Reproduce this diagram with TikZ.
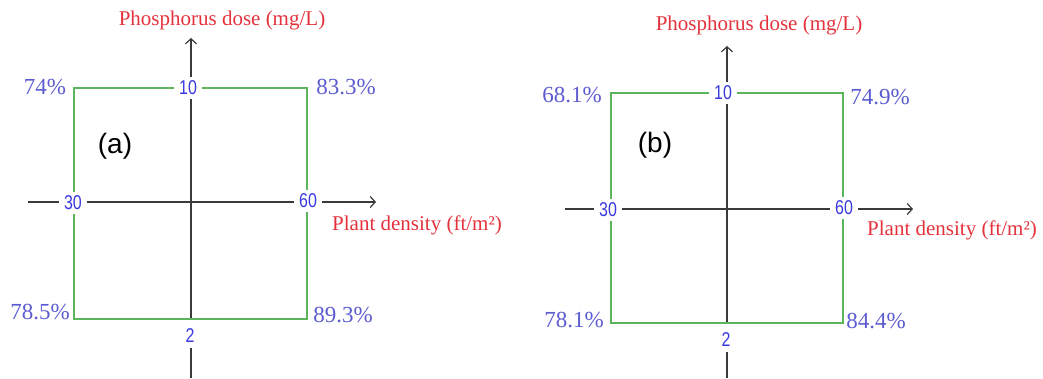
\documentclass[tikz,border=0pt]{standalone}
\usepackage{fontspec}
\usepackage{graphicx}
\setmainfont{Liberation Serif}
\newfontfamily\arialf{Liberation Sans}
\usetikzlibrary{arrows.meta}
\definecolor{labred}{HTML}{E4323C}
\definecolor{pctblue}{HTML}{5C5CD0}
\definecolor{numblue}{HTML}{3A3AE0}
\definecolor{boxgreen}{HTML}{5CB45C}
\definecolor{axisgray}{HTML}{3A3A3A}
\tikzset{
  axis/.style={draw=axisgray, line width=1.6pt},
  axarrow/.style={axis, -{Straight Barb[length=5pt,width=11pt,line width=1.2pt]}},
  boxline/.style={draw=boxgreen, line width=1.8pt},
  tick/.style={font=\arialf\fontsize{20}{20}\selectfont, text=numblue, fill=white, inner xsep=5pt, inner ysep=3.5pt},
  pct/.style={font=\fontsize{23}{23}\selectfont, text=pctblue, inner sep=0pt},
  axlabel/.style={font=\fontsize{21}{21}\selectfont, text=labred, inner sep=0pt},
  panel/.style={font=\arialf\fontsize{28}{28}\selectfont, text=black, inner sep=0pt}
}
\newcommand{\cond}[1]{\scalebox{0.8}[1]{#1}}
\begin{document}
\begin{tikzpicture}[x=1pt,y=1pt]
\useasboundingbox (0,0) rectangle (1043,378);
% ---------- panel (a) ----------
\coordinate (aTL) at (74,290);
\coordinate (aTR) at (307,290);
\coordinate (aBL) at (74,59);
\coordinate (aBR) at (307,59);
\coordinate (aBC) at (191,59);
\coordinate (aVtop) at (191,340);
\coordinate (aVbot) at (191,0);
\coordinate (aVlow) at (191,30);
\coordinate (aHl) at (28,176);
\coordinate (aHr) at (376,176);
\draw[axarrow] (aBC) -- (aVtop);
\draw[axis] (aVbot) -- (aVlow);
\draw[axarrow] (aHl) -- (aHr);
\draw[boxline] (aTL) -- (aTR) -- (aBR) -- (aBL) -- cycle;
\node[tick] (a10) at (188,290) {\cond{10}};
\node[tick] (a30) at (73,175) {\cond{30}};
\node[tick] (a60) at (308,177) {\cond{60}};
\node[tick] (a2) at (190,42) {\cond{2}};
\node[pct] (a74) at (45,291) {74\%};
\node[pct] (a833) at (346,291) {83.3\%};
\node[pct] (a785) at (40,66) {78.5\%};
\node[pct] (a893) at (343,63) {89.3\%};
\node[panel] (alab) at (115,232) {(a)};
\node[axlabel] (aphos) at (222,358) {Phosphorus dose (mg/L)};
\node[axlabel] (adens) at (417,153) {Plant density (ft/m²)};
% ---------- panel (b) ----------
\coordinate (bTL) at (611,285);
\coordinate (bTR) at (843,285);
\coordinate (bBL) at (611,55);
\coordinate (bBR) at (843,55);
\coordinate (bBC) at (727,55);
\coordinate (bVtop) at (727,332);
\coordinate (bVbot) at (727,0);
\coordinate (bVlow) at (727,26);
\coordinate (bHl) at (565,169);
\coordinate (bHr) at (913,169);
\draw[axarrow] (bBC) -- (bVtop);
\draw[axis] (bVbot) -- (bVlow);
\draw[axarrow] (bHl) -- (bHr);
\draw[boxline] (bTL) -- (bTR) -- (bBR) -- (bBL) -- cycle;
\node[tick] (b10) at (723,285) {\cond{10}};
\node[tick] (b30) at (608,168) {\cond{30}};
\node[tick] (b60) at (844,170) {\cond{60}};
\node[tick] (b2) at (726,38) {\cond{2}};
\node[pct] (b681) at (572,283) {68.1\%};
\node[pct] (b749) at (880,281) {74.9\%};
\node[pct] (b781) at (574,58) {78.1\%};
\node[pct] (b844) at (876,57) {84.4\%};
\node[panel] (blab) at (655,233) {(b)};
\node[axlabel] (bphos) at (759,353) {Phosphorus dose (mg/L)};
\node[axlabel] (bdens) at (952,148) {Plant density (ft/m²)};
\end{tikzpicture}
\end{document}
